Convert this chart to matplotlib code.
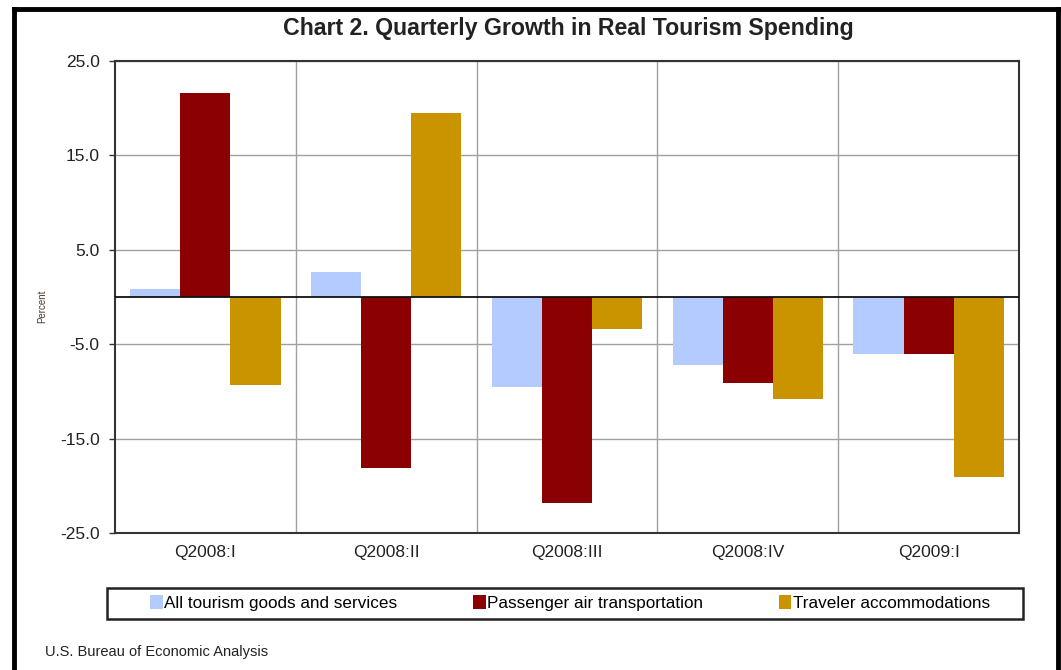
import numpy as np
import matplotlib.pyplot as plt
from matplotlib.lines import Line2D
from matplotlib.patches import Patch, Rectangle

plt.rcParams['font.family'] = ['Liberation Sans', 'DejaVu Sans']

quarters = ["Q2008:I", "Q2008:II", "Q2008:III", "Q2008:IV", "Q2009:I"]
all_tourism = [0.9, 2.6, -9.5, -7.2, -6.0]
air_transport = [21.6, -18.1, -21.8, -9.1, -6.0]
accommodations = [-9.3, 19.5, -3.4, -10.8, -19.1]

series_names = ["All tourism goods and services",
                "Passenger air transportation",
                "Traveler accommodations"]
colors = ["#b3cbff", "#8b0000", "#c99400"]
yticks = [25.0, 15.0, 5.0, -5.0, -15.0, -25.0]

W, H = 1061, 670
fig = plt.figure(figsize=(W / 100, H / 100), dpi=100)
ax = fig.add_axes([115 / W, 1 - 533 / H, (1019 - 115) / W, (533 - 61) / H])

x = np.arange(len(quarters))
w = 0.277
for i, (vals, col) in enumerate(zip([all_tourism, air_transport, accommodations], colors)):
    ax.bar(x + (i - 1) * w, vals, width=w, color=col, zorder=3)

ax.set_xlim(-0.5, len(quarters) - 0.5)
ax.set_ylim(-25, 25)
ax.set_yticks(yticks)
ax.set_yticklabels(["%.1f" % v for v in yticks], fontsize=12.5, color="#222222")
ax.set_xticks(x)
ax.set_xticklabels(quarters, fontsize=12.5, color="#222222")
ax.tick_params(axis="x", length=0, pad=9)
ax.tick_params(axis="y", length=4, width=1, color="#333333", direction="out", pad=7)

# grid
for v in yticks:
    ax.axhline(v, color="#a0a0a0", lw=1, zorder=1)
for b in np.arange(0.5, len(quarters) - 0.5, 1):
    ax.axvline(b, color="#a0a0a0", lw=1, zorder=1)
ax.axhline(0, color="#111111", lw=1.3, zorder=4)

for s in ax.spines.values():
    s.set_color("#333333")
    s.set_linewidth(1.5)

ax.set_ylabel("Percent", fontsize=7, color="#4a3a2a")
ax.yaxis.set_label_coords(-0.075, 0.48)

fig.text(0.536, 1 - 28 / H, "Chart 2. Quarterly Growth in Real Tourism Spending",
         ha="center", va="center", fontsize=16.7, fontweight="bold", color="#222222")

handles = [Patch(facecolor=c, edgecolor="none") for c in colors]
leg = fig.legend(handles, series_names, loc="center",
                 bbox_to_anchor=(570 / W, 1 - 603 / H),
                 ncol=3, fontsize=12.3, frameon=False,
                 handlelength=0.76, handleheight=0.88, handletextpad=0.1,
                 columnspacing=4.4, borderpad=0.2)
fig.add_artist(Rectangle((107 / W, 1 - 619 / H), (1023 - 107) / W, 31 / H,
                         transform=fig.transFigure, fill=False,
                         edgecolor="#222222", lw=1.8))

fig.text(45 / W, 1 - 652 / H, "U.S. Bureau of Economic Analysis",
         ha="left", va="center", fontsize=10.5, color="#222222")

# outer frame (left, top, right)
fig.add_artist(Line2D([14 / W, 14 / W], [0, 1 - 9 / H], color="black", lw=3.5,
                      transform=fig.transFigure))
fig.add_artist(Line2D([14 / W, 1058 / W], [1 - 9 / H, 1 - 9 / H], color="black", lw=3.5,
                      transform=fig.transFigure))
fig.add_artist(Line2D([1058 / W, 1058 / W], [0, 1 - 9 / H], color="black", lw=3.5,
                      transform=fig.transFigure))

fig.savefig("out.png", dpi=100)
